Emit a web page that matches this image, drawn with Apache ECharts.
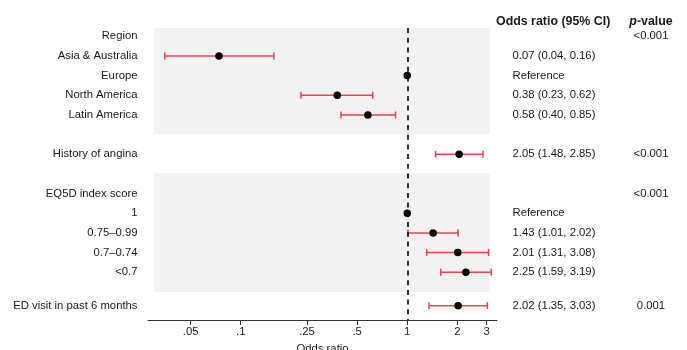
<!DOCTYPE html>
<html>
<head>
<meta charset="utf-8">
<script src="https://cdn.jsdelivr.net/npm/echarts@6/dist/echarts.min.js"></script>
<style>
html,body{margin:0;padding:0;background:#fff;}
#chart{width:687px;height:350px;}
</style>
</head>
<body>
<div id="chart"></div>
<script>
// ---------------- DATA ----------------
const labels = ['Region', 'Asia & Australia', 'Europe', 'North America', 'Latin America',
  'History of angina',
  'EQ5D index score', '1', '0.75\u20130.99', '0.7\u20130.74', '<0.7',
  'ED visit in past 6 months'];
const oddsRatio = [null, 0.074, 1, 0.38, 0.58, 2.05, null, 1, 1.43, 2.01, 2.25, 2.02];
const ciLower   = [null, 0.035, null, 0.23, 0.40, 1.48, null, null, 1.01, 1.31, 1.59, 1.35];
const ciUpper   = [null, 0.158, null, 0.62, 0.85, 2.85, null, null, 2.02, 3.08, 3.19, 3.03];
const ciText = ['', '0.07 (0.04, 0.16)', 'Reference', '0.38 (0.23, 0.62)', '0.58 (0.40, 0.85)',
  '2.05 (1.48, 2.85)',
  '', 'Reference', '1.43 (1.01, 2.02)', '2.01 (1.31, 3.08)', '2.25 (1.59, 3.19)',
  '2.02 (1.35, 3.03)'];
const pText = ['<0.001', '', '', '', '', '<0.001', '<0.001', '', '', '', '', '0.001'];
const groups = [[0, 1, 2, 3, 4], [5], [6, 7, 8, 9, 10], [11]];
const tickValues = [0.05, 0.1, 0.25, 0.5, 1, 2, 3];
const tickLabels = ['.05', '.1', '.25', '.5', '1', '2', '3'];

// ---------------- LAYOUT ----------------
const GROUP_GAPS = [1, 1, 0.7];
const rowPos = [];
(function () {
  let r = 0;
  groups.forEach((g, gi) => {
    g.forEach(idx => { rowPos[idx] = r; r += 1; });
    if (gi < GROUP_GAPS.length) r += GROUP_GAPS[gi];
  });
})();
const bands = [[-0.42, 4.97], [6.97, 13.01]];
const X_MIN = -1.557, X_MAX = 0.539;
const Y_MIN = -0.422, Y_MAX = 14.43;
const FONT = '"Liberation Sans", Arial, sans-serif';
const TXT = '#1a1a1a';
const RED = '#e8454d';

const lg = v => Math.log10(v);
const tickVals = tickValues.map(lg);

const pointData = [];
const barData = [];
labels.forEach((l, i) => {
  if (oddsRatio[i] != null) pointData.push([lg(oddsRatio[i]), rowPos[i]]);
  if (ciLower[i] != null) barData.push([lg(ciLower[i]), lg(ciUpper[i]), rowPos[i]]);
});

const chart = echarts.init(document.getElementById('chart'), null, {renderer: 'canvas'});

chart.setOption({
  animation: false,
  grid: {left: 148, right: 190, top: 28, bottom: 30, containLabel: false, outerBoundsMode: 'none'},
  xAxis: {
    type: 'value', min: X_MIN, max: X_MAX, position: 'bottom',
    splitLine: {show: false},
    axisLine: {show: true, onZero: false, lineStyle: {color: '#333', width: 1}},
    axisTick: {show: true, customValues: tickVals, length: 5, lineStyle: {color: '#333', width: 1}},
    axisLabel: {
      show: true, customValues: tickVals, margin: 6,
      fontFamily: FONT, fontSize: 11.3, color: TXT,
      formatter: v => {
        const i = tickVals.findIndex(t => Math.abs(t - v) < 1e-6);
        return i >= 0 ? tickLabels[i] : '';
      }
    },
    name: 'Odds ratio', nameLocation: 'middle', nameGap: 23,
    nameTextStyle: {fontFamily: FONT, fontSize: 11.3, color: TXT}
  },
  yAxis: {
    type: 'value', min: Y_MIN, max: Y_MAX, inverse: true, show: false,
    splitLine: {show: false}
  },
  series: [
    {
      type: 'custom', name: 'bands', z: 0, silent: true,
      data: bands,
      renderItem: (params, api) => {
        const cs = params.coordSys;
        const y0 = api.coord([0, api.value(0)])[1];
        const y1 = api.coord([0, api.value(1)])[1];
        return {type: 'rect', shape: {x: cs.x + 6, y: y0, width: cs.width - 13, height: y1 - y0},
          style: {fill: '#f2f2f2'}};
      }
    },
    {
      type: 'scatter', name: 'refline', data: [], z: 2,
      markLine: {
        silent: true, symbol: 'none', label: {show: false},
        lineStyle: {color: '#000', width: 1.6, type: [5, 4.7]},
        data: [{xAxis: 0}]
      }
    },
    {
      type: 'custom', name: 'ci', z: 3,
      data: barData,
      renderItem: (params, api) => {
        const p0 = api.coord([api.value(0), api.value(2)]);
        const p1 = api.coord([api.value(1), api.value(2)]);
        const h = 3.5;
        const st = {stroke: RED, lineWidth: 1.5};
        return {type: 'group', children: [
          {type: 'line', shape: {x1: p0[0], y1: p0[1], x2: p1[0], y2: p1[1]}, style: st},
          {type: 'line', shape: {x1: p0[0], y1: p0[1] - h, x2: p0[0], y2: p0[1] + h}, style: st},
          {type: 'line', shape: {x1: p1[0], y1: p1[1] - h, x2: p1[0], y2: p1[1] + h}, style: st}
        ]};
      }
    },
    {
      type: 'scatter', name: 'or', z: 4,
      data: pointData, symbol: 'circle', symbolSize: 7.5,
      itemStyle: {color: '#000', opacity: 1}
    }
  ]
});

// Text columns positioned through the y scale
const graphics = [];
labels.forEach((l, i) => {
  const y = chart.convertToPixel({yAxisIndex: 0}, rowPos[i]);
  graphics.push({type: 'text', x: 137.5, y: y, style: {text: l, align: 'right', verticalAlign: 'middle',
    font: '11.3px ' + FONT, fill: TXT}});
  if (ciText[i]) graphics.push({type: 'text', x: 512.5, y: y, style: {text: ciText[i], align: 'left',
    verticalAlign: 'middle', font: '11.3px ' + FONT, fill: TXT}});
  if (pText[i]) graphics.push({type: 'text', x: 651, y: y, style: {text: pText[i], align: 'center',
    verticalAlign: 'middle', font: '11.3px ' + FONT, fill: TXT}});
});
graphics.push({type: 'text', x: 496, y: 22, style: {text: 'Odds ratio (95% CI)', align: 'left',
  verticalAlign: 'middle', font: 'bold 12.4px ' + FONT, fill: TXT}});
graphics.push({type: 'text', x: 651, y: 22, style: {
  text: '{i|p}{b|-value}', align: 'center', verticalAlign: 'middle',
  rich: {
    i: {fontFamily: FONT, fontSize: 12.4, fontWeight: 'bold', fontStyle: 'italic', fill: TXT, color: TXT},
    b: {fontFamily: FONT, fontSize: 12.4, fontWeight: 'bold', fill: TXT, color: TXT}
  }}});
chart.setOption({graphic: graphics});
</script>
</body>
</html>
